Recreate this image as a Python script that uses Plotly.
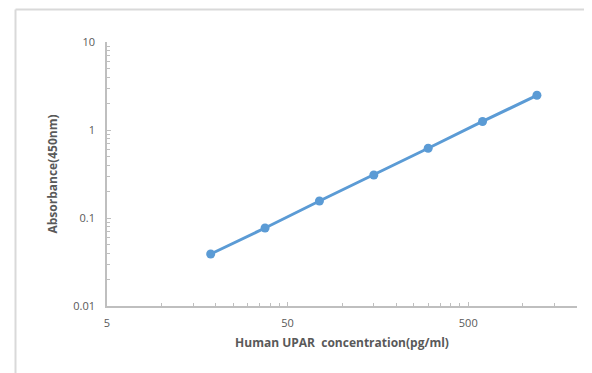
import plotly.graph_objects as go
import numpy as np

concentration = [18.75, 37.5, 75, 150, 300, 600, 1200]
absorbance = [0.039, 0.077, 0.156, 0.308, 0.62, 1.25, 2.48]

x_ticks = [5, 50, 500]
x_ticktext = ["5", "50", "500"]
y_ticks = [0.01, 0.1, 1, 10]
y_ticktext = ["0.01", "0.1", "1", "10"]

x_minor = [m * 10 ** d for d in range(0, 4) for m in [1, 1.5, 2, 2.5, 3, 3.5, 4, 4.5]]
x_minor = [v for v in x_minor if 5 < v <= 2000 and v not in (50, 500)]
y_minor = [m * 10 ** d for d in range(-2, 1) for m in range(2, 10)]

# page body adds an 8px offset; the figure is sized to fit the window
OFF = 8
W, H = 592 - OFF, 373 - OFF
L, T = 107 - OFF, 42 - OFF
R = W - (577 - OFF)
B = H - (306 - OFF)

fig = go.Figure()
fig.add_trace(go.Scatter(
    x=concentration, y=absorbance, mode="lines+markers",
    line=dict(color="#5B9BD5", width=3),
    marker=dict(color="#5B9BD5", size=9),
    showlegend=False,
))

axis_font = dict(family="Open Sans, Liberation Sans, sans-serif", size=11, color="#595959")
title_font = dict(family="Open Sans, Liberation Sans, sans-serif", size=12, color="#595959")

fig.update_xaxes(
    type="log", range=[np.log10(5), np.log10(2000)],
    tickvals=x_ticks, ticktext=x_ticktext,
    showgrid=False, zeroline=False,
    showline=True, linecolor="#bfbfbf", linewidth=1.5,
    ticks="inside", ticklen=4, tickcolor="#bfbfbf", tickwidth=1,
    minor=dict(tickvals=x_minor, ticks="inside", ticklen=3, tickcolor="#bfbfbf", tickwidth=1, showgrid=False),
    tickfont=axis_font, ticklabelstandoff=6,
    title=dict(text="<b>Human UPAR  concentration(pg/ml)</b>", font=title_font, standoff=10),
)
fig.update_yaxes(
    type="log", range=[-2, 1],
    tickvals=y_ticks, ticktext=y_ticktext,
    showgrid=False, zeroline=False,
    showline=True, linecolor="#bfbfbf", linewidth=1.5,
    ticks="inside", ticklen=4, tickcolor="#bfbfbf", tickwidth=1,
    minor=dict(tickvals=y_minor, ticks="inside", ticklen=3, tickcolor="#bfbfbf", tickwidth=1, showgrid=False),
    tickfont=axis_font, ticklabelstandoff=8,
    title=dict(text="<b>Absorbance(450nm)</b>", font=title_font, standoff=13),
)

pw = W - L - R
ph = H - T - B
def px_x(p):
    return (p - OFF - L) / pw
def px_y(p):
    return (H - B - (p - OFF)) / ph

fig.add_shape(type="line", xref="paper", yref="paper",
              x0=px_x(15.5), x1=px_x(600), y0=px_y(9.5), y1=px_y(9.5),
              line=dict(color="#d9d9d9", width=2))
fig.add_shape(type="line", xref="paper", yref="paper",
              x0=px_x(15.5), x1=px_x(15.5), y0=px_y(9.5), y1=px_y(380),
              line=dict(color="#d9d9d9", width=2))

fig.update_layout(
    width=W, height=H,
    margin=dict(l=L, r=R, t=T, b=B),
    paper_bgcolor="white", plot_bgcolor="white",
)
fig.write_html("out.html")
